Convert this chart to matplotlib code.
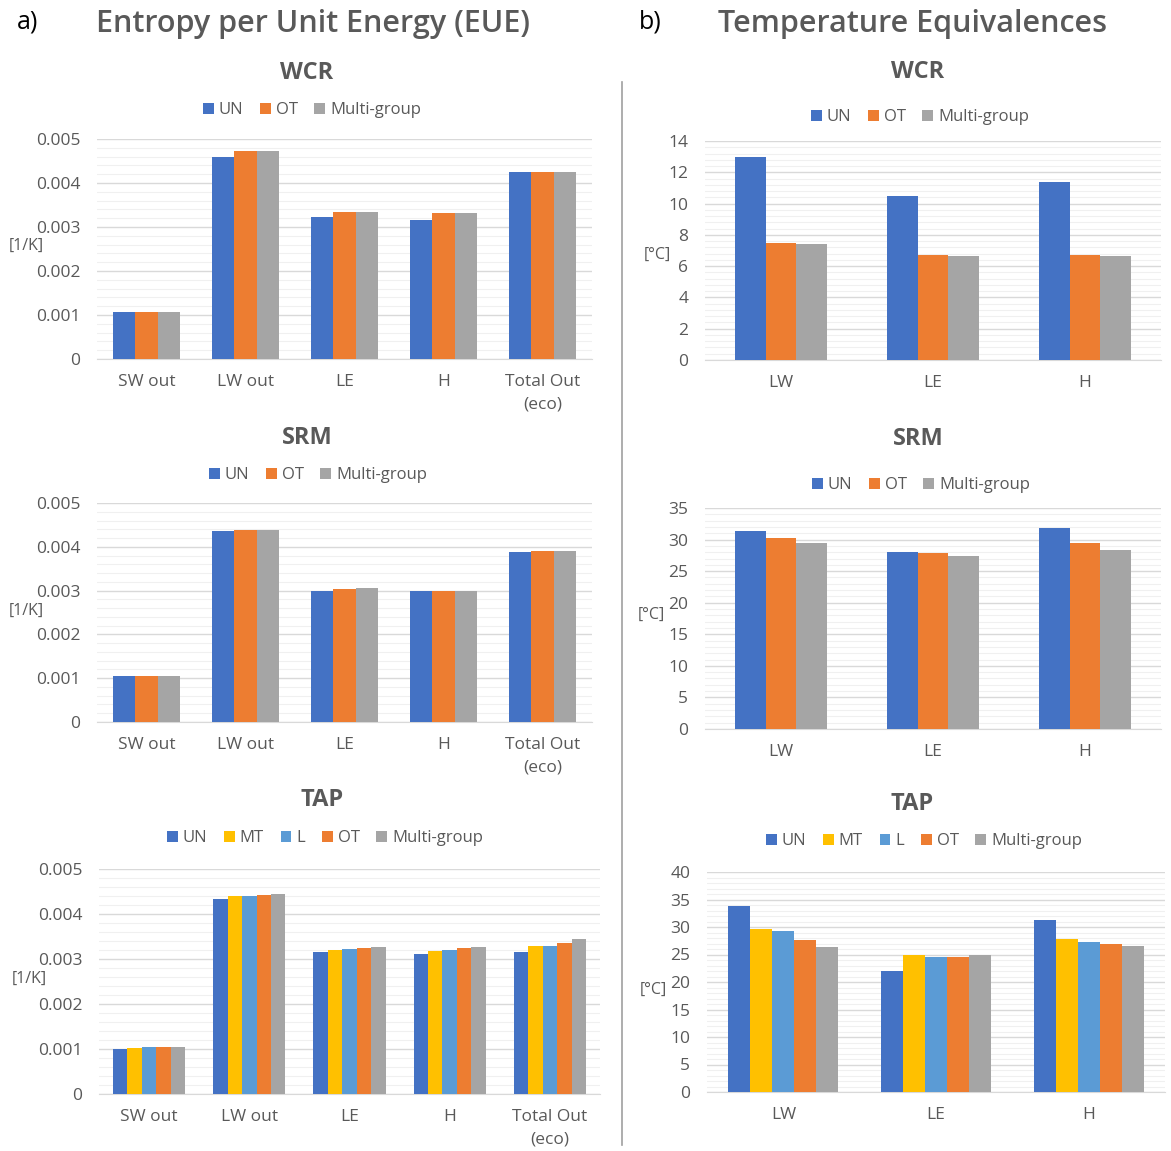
import matplotlib
matplotlib.use("Agg")
import matplotlib.pyplot as plt
from matplotlib.patches import Patch
from matplotlib.ticker import MultipleLocator, FuncFormatter
import numpy as np

# ---- data -------------------------------------------------------------
eue_cats = ["SW out", "LW out", "LE", "H", "Total Out\n(eco)"]
teq_cats = ["LW", "LE", "H"]

groups3 = ["UN", "OT", "Multi-group"]
groups5 = ["UN", "MT", "L", "OT", "Multi-group"]

# Entropy per unit energy [1/K]
wcr_eue_un = [0.00106, 0.00460, 0.00322, 0.00315, 0.00424]
wcr_eue_ot = [0.00106, 0.00472, 0.00334, 0.00332, 0.00424]
wcr_eue_mg = [0.00106, 0.00472, 0.00334, 0.00332, 0.00424]

srm_eue_un = [0.00105, 0.00437, 0.00300, 0.00300, 0.00389]
srm_eue_ot = [0.00105, 0.00439, 0.00303, 0.00300, 0.00391]
srm_eue_mg = [0.00105, 0.00439, 0.00306, 0.00300, 0.00391]

tap_eue_un = [0.00101, 0.00433, 0.00315, 0.00312, 0.00316]
tap_eue_mt = [0.00102, 0.00440, 0.00320, 0.00318, 0.00329]
tap_eue_l = [0.00104, 0.00441, 0.00322, 0.00321, 0.00330]
tap_eue_ot = [0.00104, 0.00442, 0.00324, 0.00324, 0.00336]
tap_eue_mg = [0.00105, 0.00444, 0.00327, 0.00326, 0.00345]

# Temperature equivalences [°C]
wcr_teq_un = [12.98, 10.49, 11.38]
wcr_teq_ot = [7.49, 6.72, 6.72]
wcr_teq_mg = [7.43, 6.68, 6.68]

srm_teq_un = [31.3, 28.1, 31.9]
srm_teq_ot = [30.3, 27.9, 29.4]
srm_teq_mg = [29.5, 27.4, 28.3]

tap_teq_un = [33.8, 22.0, 31.3]
tap_teq_mt = [29.6, 24.9, 27.9]
tap_teq_l = [29.2, 24.5, 27.3]
tap_teq_ot = [27.6, 24.5, 27.0]
tap_teq_mg = [26.4, 25.0, 26.5]

# ---- style ------------------------------------------------------------
colors = {"UN": "#4472C4", "OT": "#ED7D31", "Multi-group": "#A5A5A5",
          "MT": "#FFC000", "L": "#5B9BD5"}
TXT = "#595959"
plt.rcParams["font.family"] = ["Open Sans", "DejaVu Sans"]

W, H = 1171, 1151
fig = plt.figure(figsize=(W / 100, H / 100), dpi=100)


def rect(x0, y0, x1, y1):
    """pixel box (top-left origin) -> figure fraction rect"""
    return [x0 / W, 1 - y1 / H, (x1 - x0) / W, (y1 - y0) / H]


def bar_panel(box, cats, names, series, ymax, ystep, fmt, ylabel, ylab_xy,
              group_w, title, title_xy, legend_xy):
    ax = fig.add_axes(rect(*box))
    x = np.arange(len(cats))
    n = len(names)
    bw = group_w / n
    for i, (nm, vals) in enumerate(zip(names, series)):
        ax.bar(x - group_w / 2 + bw * (i + 0.5), vals, width=bw,
               color=colors[nm], zorder=3, linewidth=0)
    ax.set_xlim(-0.5, len(cats) - 0.5)
    ax.set_ylim(0, ymax)
    ax.yaxis.set_major_locator(MultipleLocator(ystep))
    ax.yaxis.set_minor_locator(MultipleLocator(ystep / 5))
    ax.yaxis.set_major_formatter(FuncFormatter(fmt))
    ax.grid(axis="y", which="major", color="#d9d9d9", linewidth=1.0, zorder=0)
    ax.grid(axis="y", which="minor", color="#f0f0f0", linewidth=0.8, zorder=0)
    for s in ["top", "right", "left"]:
        ax.spines[s].set_visible(False)
    ax.spines["bottom"].set_color("#d9d9d9")
    ax.set_xticks(x)
    ax.set_xticklabels(cats, fontsize=12.5, color=TXT, linespacing=1.55)
    ax.tick_params(axis="both", which="both", length=0, colors=TXT)
    ax.tick_params(axis="y", labelsize=12.5, pad=12)
    ax.tick_params(axis="x", pad=11)
    ax.set_axisbelow(True)
    fig.text(ylab_xy[0] / W, 1 - ylab_xy[1] / H, ylabel,
             fontsize=11.5, color=TXT, ha="center", va="center")
    fig.text(title_xy[0] / W, 1 - title_xy[1] / H, title,
             fontsize=17, fontweight="bold", color=TXT, ha="center", va="center")
    handles = [Patch(facecolor=colors[nm], edgecolor="none") for nm in names]
    fig.legend(handles, names, loc="center", ncol=n, frameon=False,
               bbox_to_anchor=(legend_xy[0] / W, 1 - legend_xy[1] / H),
               fontsize=12, labelcolor=TXT, handlelength=0.65, handleheight=0.65,
               handletextpad=0.3, columnspacing=1.0)
    return ax


def fmt_eue(v, _):
    return "0" if abs(v) < 1e-12 else f"{v:.3f}"


def fmt_int(v, _):
    return f"{v:.0f}"


# left column: entropy per unit energy
bar_panel((97, 139, 592, 359), eue_cats, groups3,
          [wcr_eue_un, wcr_eue_ot, wcr_eue_mg], 0.005, 0.001, fmt_eue,
          "[1/K]", (26, 246), 0.67, "WCR", (307, 73), (312, 110))
bar_panel((97, 503, 592, 722), eue_cats, groups3,
          [srm_eue_un, srm_eue_ot, srm_eue_mg], 0.005, 0.001, fmt_eue,
          "[1/K]", (26, 611), 0.67, "SRM", (307, 438), (318, 475))
bar_panel((99, 869, 600, 1094), eue_cats, groups5,
          [tap_eue_un, tap_eue_mt, tap_eue_l, tap_eue_ot, tap_eue_mg],
          0.005, 0.001, fmt_eue, "[1/K]", (29, 979), 0.72, "TAP", (322, 800),
          (325, 838))

# right column: temperature equivalences
bar_panel((705, 141, 1161, 360), teq_cats, groups3,
          [wcr_teq_un, wcr_teq_ot, wcr_teq_mg], 14, 2, fmt_int,
          "[°C]", (657, 255), 0.6, "WCR", (918, 72), (920, 117))
bar_panel((705, 508, 1161, 729), teq_cats, groups3,
          [srm_teq_un, srm_teq_ot, srm_teq_mg], 35, 5, fmt_int,
          "[°C]", (651, 615), 0.6, "SRM", (918, 439), (921, 485))
bar_panel((707, 872, 1165, 1092), teq_cats, groups5,
          [tap_teq_un, tap_teq_mt, tap_teq_l, tap_teq_ot, tap_teq_mg],
          40, 5, fmt_int, "[°C]", (653, 990), 0.72, "TAP", (912, 804),
          (924, 841))

# column headers
fig.text(28 / W, 1 - 22 / H, "a)", fontsize=18, color="black",
         ha="center", va="center")
fig.text(313 / W, 1 - 24 / H, "Entropy per Unit Energy (EUE)", fontsize=22,
         fontweight="semibold", color=TXT, ha="center", va="center")
fig.text(650 / W, 1 - 22 / H, "b)", fontsize=18, color="black",
         ha="center", va="center")
fig.text(913 / W, 1 - 24 / H, "Temperature Equivalences", fontsize=22,
         fontweight="semibold", color=TXT, ha="center", va="center")

# column separator
fig.add_artist(plt.Line2D([622 / W, 622 / W], [1 - 82 / H, 1 - 1145 / H],
                          color="#a0a0a0", linewidth=1.2))

fig.savefig("out.png", dpi=100)
